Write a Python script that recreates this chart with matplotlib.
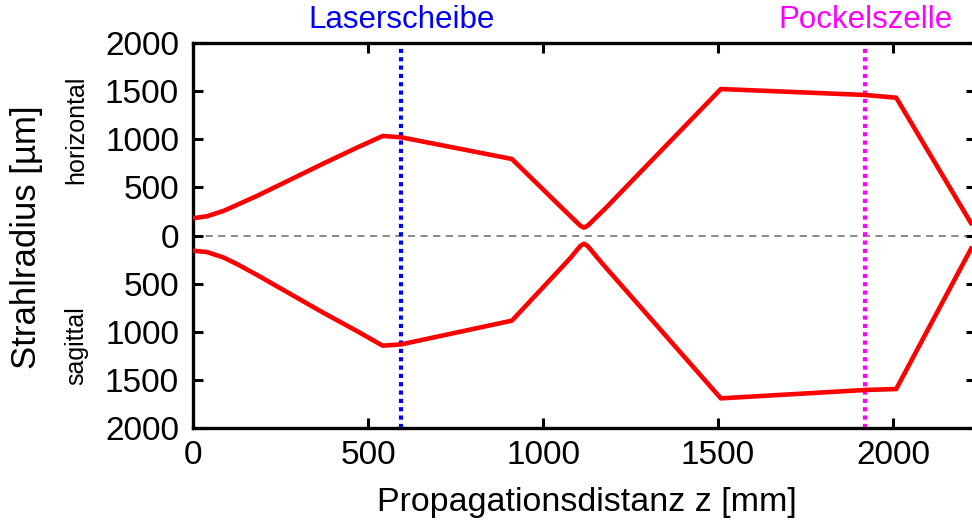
import matplotlib
matplotlib.use("Agg")
import matplotlib.pyplot as plt

# Beam radius along the resonator (z in mm, radius in µm)
z_horizontal = [0, 40, 87, 130, 182, 277, 371, 468, 542, 595, 911,
                1060, 1080, 1097, 1107, 1117, 1127, 1137, 1155, 1175, 1508, 1920, 2009, 2226]
r_horizontal = [179, 200, 255, 325, 410, 578, 745, 912, 1034, 1020, 795,
                265, 195, 135, 100, 82, 100, 135, 200, 270, 1522, 1460, 1432, 109]

z_sagittal = [0, 40, 87, 130, 182, 277, 371, 468, 542, 595, 911,
              1060, 1080, 1097, 1107, 1117, 1127, 1137, 1155, 1175, 1508, 1920, 2009, 2226]
r_sagittal = [158, 172, 228, 305, 408, 605, 800, 992, 1145, 1131, 885,
              305, 226, 150, 108, 85, 108, 150, 230, 315, 1692, 1605, 1595, 116]

# Optical elements
element_names = ["Laserscheibe", "Pockelszelle"]
element_z = [595, 1920]
element_colors = ["#0000ff", "#ff00ff"]

y_ticks = [-2000, -1500, -1000, -500, 0, 500, 1000, 1500, 2000]
y_ticklabels = ["2000", "1500", "1000", "500", "0", "500", "1000", "1500", "2000"]
x_ticks = [0, 500, 1000, 1500, 2000]

plt.rcParams["font.family"] = ["Liberation Sans", "DejaVu Sans"]

W, H = 972, 524
fig = plt.figure(figsize=(W / 100, H / 100), dpi=100)
ax = fig.add_axes([193 / W, 1 - 428 / H, (976 - 193) / W, (428 - 43) / H])
ax.set_xlim(0, 2237)
ax.set_ylim(-2000, 2000)

ax.axhline(0, color="#808080", lw=1.3, ls=(0, (4, 3)), zorder=1)

for name, zpos, col in zip(element_names, element_z, element_colors):
    ax.axvline(zpos, color=col, lw=3.0, ls=(0, (1, 1)), zorder=2)
    ax.annotate(name, xy=(zpos, 0), xycoords=("data", "figure pixels"),
                xytext=(0, H - 20), textcoords=("offset pixels", "figure pixels"),
                ha="center", va="center", color=col, fontsize=22.5,
                annotation_clip=False)

ax.plot(z_horizontal, r_horizontal, color="#ff0000", lw=3.3, zorder=3,
        solid_joinstyle="round", solid_capstyle="butt")
ax.plot(z_sagittal, [-v for v in r_sagittal], color="#ff0000", lw=3.3, zorder=3,
        solid_joinstyle="round", solid_capstyle="butt")

ax.set_xticks(x_ticks)
ax.set_yticks(y_ticks)
ax.set_yticklabels(y_ticklabels)
ax.tick_params(direction="in", length=7, width=2.2, labelsize=24,
               top=True, right=True)
ax.tick_params(axis="y", pad=10)
ax.tick_params(axis="x", pad=9)
ax.tick_params(axis="y", which="both", right=True, color="black")
for s in ax.spines.values():
    s.set_linewidth(2.4)

fig.text(27 / W, 1 - 237 / H, "Strahlradius [µm]", rotation=90,
         ha="center", va="center", fontsize=25)
fig.text(76 / W, 1 - 130 / H, "horizontal", rotation=90,
         ha="center", va="center", fontsize=18)
fig.text(76 / W, 1 - 346 / H, "sagittal", rotation=90,
         ha="center", va="center", fontsize=18)
fig.text(587 / W, 1 - 503 / H, "Propagationsdistanz z [mm]",
         ha="center", va="center", fontsize=24.5)

fig.savefig("out.png", dpi=100)
